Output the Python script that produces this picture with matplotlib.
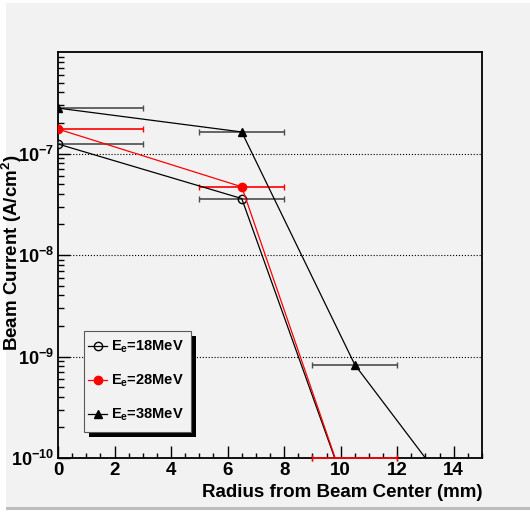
import numpy as np
import matplotlib
matplotlib.use('Agg')
import matplotlib.pyplot as plt
from matplotlib.patches import Rectangle
from matplotlib.lines import Line2D
from matplotlib.ticker import FixedLocator, LogLocator, MultipleLocator, NullFormatter, LogFormatterSciNotation

plt.rcParams['font.family'] = ['Liberation Sans', 'DejaVu Sans']
plt.rcParams['font.weight'] = 'bold'
plt.rcParams['mathtext.default'] = 'regular'

# radius bins (mm), bin half widths and beam current (A/cm^2) for each energy
radius = [0.0, 6.5, 10.5]
radius_38 = [0.0, 6.5, 10.5, 14.5]
xerr_lo = [0.0, 1.5, 1.5]
xerr_hi = [3.0, 1.5, 1.5]
xerr_lo_38 = [0.0, 1.5, 1.5, 0.0]
xerr_hi_38 = [3.0, 1.5, 1.5, 0.0]
current_18 = [1.24e-7, 3.6e-8, 2.8e-11]
current_28 = [1.74e-7, 4.7e-8, 2.75e-11]
current_38 = [2.8e-7, 1.63e-7, 8.3e-10, 2.8e-11]
labels = [r'E$_{e}$=18MeV', r'E$_{e}$=28MeV', r'E$_{e}$=38MeV']

YMIN, YMAX = 1e-10, 1e-6
GRAY = '#f2f2f2'

fig = plt.figure(figsize=(5.3, 5.12), dpi=100, facecolor='white')
# canvas panel with a darker lower edge
fig.patches.append(Rectangle((6 / 530, 5 / 512), 1, 504 / 512, transform=fig.transFigure,
                             facecolor=GRAY, edgecolor='none', zorder=-10))
fig.patches.append(Rectangle((6 / 530, 2.5 / 512), 1, 2.5 / 512, transform=fig.transFigure,
                             facecolor='#bdbdbd', edgecolor='none', zorder=-10))

ax = fig.add_axes([58 / 530, 54 / 512, 424 / 530, 406 / 512])
ax.set_facecolor(GRAY)
ax.set_yscale('log')
ax.set_xlim(0, 15)
ax.set_ylim(YMIN, YMAX)


def draw_series(x, y, lo, hi, color, ecolor, marker, mfc):
    ax.plot(x, y, color=color, lw=0.9, marker=marker, mfc=mfc, mec=color,
            ms=6, mew=1.0, zorder=3)
    x = np.array(x)
    lo = np.array(lo)
    hi = np.array(hi)
    keep = (lo + hi) > 0
    # points below the axis get their bars drawn on the lower edge
    ybar = np.clip(np.array(y), YMIN, None)
    eb = ax.errorbar(x[keep], ybar[keep], xerr=[lo[keep], hi[keep]], fmt='none',
                     ecolor=ecolor, elinewidth=1.2, capsize=2, capthick=1, zorder=2.7)
    for art in eb.get_children():
        art.set_clip_on(False)


draw_series(radius, current_18, xerr_lo, xerr_hi, 'k', '0.3', 'o', 'none')
draw_series(radius, current_28, xerr_lo, xerr_hi, 'red', 'red', 'o', 'red')
draw_series(radius_38, current_38, xerr_lo_38, xerr_hi_38, 'k', '0.3', '^', 'k')

# axes styling
ax.yaxis.set_major_locator(FixedLocator([1e-10, 1e-9, 1e-8, 1e-7]))
ax.yaxis.set_major_formatter(LogFormatterSciNotation())
ax.yaxis.set_minor_locator(LogLocator(base=10, subs=np.arange(2, 10)))
ax.yaxis.set_minor_formatter(NullFormatter())
ax.xaxis.set_major_locator(MultipleLocator(2))
ax.xaxis.set_minor_locator(MultipleLocator(0.5))
ax.tick_params(which='both', direction='in', top=False, right=False, width=1)
ax.tick_params(axis='x', labelsize=13.5)
ax.tick_params(axis='y', labelsize=13)
ax.tick_params(which='major', length=8.5)
ax.tick_params(axis='y', which='minor', length=4.5)
ax.tick_params(axis='x', which='minor', length=3.5)
ax.tick_params(axis='x', which='major', pad=3)
ax.tick_params(axis='y', which='major', pad=3)
for s in ax.spines.values():
    s.set_linewidth(1.3)
ax.yaxis.grid(True, which='major', linestyle=':', color='k', linewidth=0.8)

ax.set_xlabel('Radius from Beam Center (mm)', fontsize=13.5, fontweight='bold', ha='right')
ax.xaxis.set_label_coords(1.0, -0.063)
ax.set_ylabel('Beam Current (A/cm$^{2}$)', fontsize=13.5, fontweight='bold')
ax.yaxis.set_label_coords(-0.08, 0.505)

# legend box with a solid drop shadow
bx, by, bw, bh = 26 / 424, 26 / 406, 107 / 424, 101 / 406
ax.add_patch(Rectangle((bx + 5 / 424, by - 5 / 406), bw, bh, transform=ax.transAxes,
                       facecolor='k', edgecolor='none', clip_on=False, zorder=4))
ax.add_patch(Rectangle((bx, by), bw, bh, transform=ax.transAxes, facecolor=GRAY,
                       edgecolor='0.35', lw=0.8, clip_on=False, zorder=4.5))
handles = [
    Line2D([], [], color='k', lw=0.9, marker='o', mfc='none', mec='k', ms=6),
    Line2D([], [], color='red', lw=0.9, marker='o', mfc='red', mec='red', ms=6),
    Line2D([], [], color='k', lw=0.9, marker='^', mfc='k', mec='k', ms=6),
]
ax.legend(handles, labels, loc='upper left', bbox_to_anchor=(bx - 4 / 424, by + bh), frameon=False,
          borderaxespad=0, borderpad=0.55, handlelength=1.3, handletextpad=0.3,
          labelspacing=1.2, prop={'weight': 'bold', 'size': 10.5})

fig.savefig('out.png', dpi=100)
